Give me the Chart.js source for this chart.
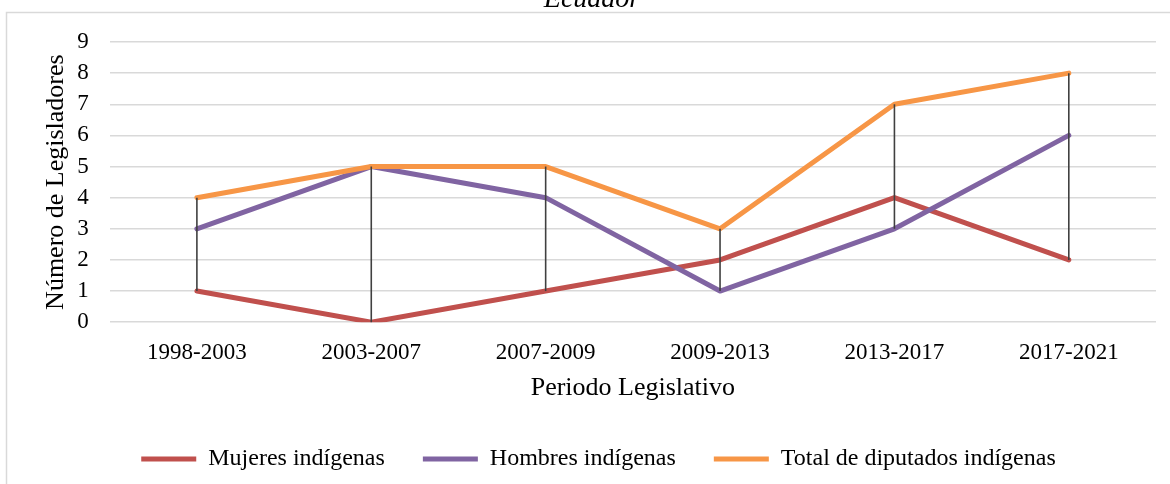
<!DOCTYPE html>
<html>
<head>
<meta charset="utf-8">
<script src="https://cdn.jsdelivr.net/npm/chart.js@4.4.1/dist/chart.umd.min.js"></script>
<style>
  html, body { margin: 0; padding: 0; background: #fff; }
  #wrap { width: 1170px; height: 484px; position: relative; }
</style>
</head>
<body>
<div id="wrap"><canvas id="chart"></canvas></div>
<script>
  const periodos = ["1998-2003", "2003-2007", "2007-2009", "2009-2013", "2013-2017", "2017-2021"];
  const mujeres = [1, 0, 1, 2, 4, 2];
  const hombres = [3, 5, 4, 1, 3, 6];
  const total = [4, 5, 5, 3, 7, 8];
  const yTicks = [0, 1, 2, 3, 4, 5, 6, 7, 8, 9];

  const serif = "'Liberation Serif', 'Times New Roman', serif";
  const gridGray = "#d9d9d9";

  // frame round the chart + the cut-off title above it
  const framePlugin = {
    id: "frame",
    beforeDraw(chart) {
      const ctx = chart.ctx;
      ctx.save();
      ctx.strokeStyle = gridGray;
      ctx.lineWidth = 1.5;
      ctx.strokeRect(6.5, 12.5, 1200, 520);
      ctx.fillStyle = "#000";
      ctx.font = "italic 28px " + serif;
      ctx.textAlign = "center";
      ctx.textBaseline = "alphabetic";
      ctx.fillText("Ecuador", 592, 7);
      ctx.restore();
    }
  };

  // high-low lines between lowest and highest series at each period
  const hiLoPlugin = {
    id: "hiLo",
    afterDatasetsDraw(chart) {
      const ctx = chart.ctx;
      const x = chart.scales.x, y = chart.scales.y;
      const sets = chart.data.datasets;
      ctx.save();
      ctx.strokeStyle = "#404040";
      ctx.lineWidth = 1.6;
      periodos.forEach(function(_, i) {
        const vals = sets.map(function(d) { return d.data[i]; });
        const px = x.getPixelForValue(i);
        ctx.beginPath();
        ctx.moveTo(px, y.getPixelForValue(Math.max.apply(null, vals)));
        ctx.lineTo(px, y.getPixelForValue(Math.min.apply(null, vals)));
        ctx.stroke();
      });
      ctx.restore();
    }
  };

  function lineSet(label, data, color, order) {
    return {
      label: label, data: data, borderColor: color, backgroundColor: color,
      borderWidth: 5, pointRadius: 0, tension: 0, order: order,
      borderCapStyle: "round", borderJoinStyle: "round"
    };
  }

  new Chart(document.getElementById("chart"), {
    type: "line",
    data: {
      labels: periodos,
      datasets: [
        lineSet("Mujeres indígenas", mujeres, "#c0504d", 3),
        lineSet("Hombres indígenas", hombres, "#8064a2", 2),
        lineSet("Total de diputados indígenas", total, "#f79646", 1)
      ]
    },
    options: {
      responsive: true, maintainAspectRatio: false, animation: false,
      layout: { padding: { top: 42, left: 41, right: 14, bottom: 3 } },
      plugins: {
        tooltip: { enabled: false },
        legend: {
          position: "bottom",
          labels: {
            color: "#000",
            font: { family: serif, size: 24 },
            boxWidth: 55, boxHeight: 5, padding: 38,
            sort: function(a, b) { return a.datasetIndex - b.datasetIndex; },
            generateLabels: function(chart) {
              return Chart.defaults.plugins.legend.labels.generateLabels(chart).map(function(it) {
                it.lineWidth = 0;
                return it;
              });
            }
          }
        }
      },
      scales: {
        x: {
          offset: true,
          grid: { display: false, drawTicks: false },
          border: { display: false },
          ticks: { color: "#000", font: { family: serif, size: 23 }, padding: 17, maxRotation: 0 },
          title: { display: true, text: "Periodo Legislativo", color: "#000",
                   font: { family: serif, size: 26 }, padding: { top: -11, bottom: 5 } }
        },
        y: {
          min: 0, max: 9,
          afterBuildTicks: function(axis) { axis.ticks = yTicks.map(function(v) { return { value: v }; }); },
          grid: { color: gridGray, lineWidth: 1.5, drawTicks: false },
          border: { display: false },
          ticks: { color: "#000", font: { family: serif, size: 23 }, padding: 21, autoSkip: false },
          title: { display: true, text: "Número de Legisladores", color: "#000",
                   font: { family: serif, size: 26 }, padding: { top: 0, bottom: -16 } }
        }
      }
    },
    plugins: [framePlugin, hiLoPlugin]
  });
</script>
</body>
</html>
